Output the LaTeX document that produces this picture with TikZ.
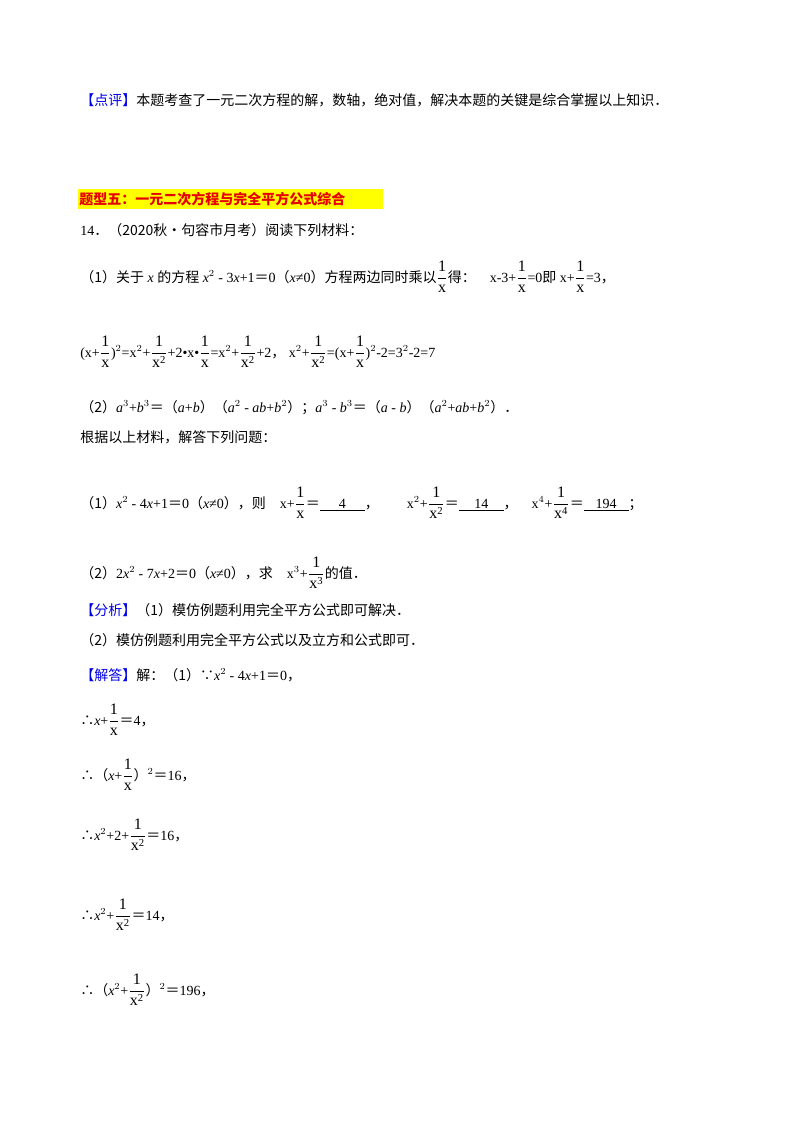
\documentclass[tikz,border=0pt]{standalone}
\usepackage{amsmath}
\usepackage{fontspec}
\setmainfont{Liberation Serif}
\newfontfamily\cjk{Noto Sans CJK SC}
\definecolor{kb}{RGB}{0,0,230}
\definecolor{hl}{RGB}{255,255,0}
\definecolor{tr}{RGB}{230,0,0}
\newcommand\C[1]{{\cjk #1}}
\newcommand\E{\C{＝}}
\newcommand\T{\C{∴}}
\newcommand\F[2]{{\fontsize{12}{14}\selectfont$\dfrac{\mathrm{#1}}{\mathrm{#2}}$}}
\newcommand\bl[1]{\underline{\makebox[3.2em]{#1}}}
\begin{document}
\begin{tikzpicture}[x=0.75pt,y=-0.75pt,
  t/.style={anchor=base west,inner sep=0,font=\fontsize{10.5}{12}\selectfont}]
\useasboundingbox (0,0) rectangle (800,1132);
\fill[white] (0,0) rectangle (800,1132);
\node[t] (l1) at (80,105) {\C{\textcolor{kb}{【点评】}本题考查了一元二次方程的解，数轴，绝对值，解决本题的关键是综合掌握以上知识．}};
\fill[hl] (78,189) rectangle (383,209);
\node[t] (h) at (79,204) {\C{\bfseries\textcolor{tr}{题型五：一元二次方程与完全平方公式综合}}};
\node[t] (l2) at (80,235) {14\C{．（2020秋•句容市月考）阅读下列材料：}};
\node[t] (l3) at (80,282) {\C{（1）关于} \textit{x} \C{的方程} \textit{x}$^2$ - 3\textit{x}+1\E 0\C{（}\textit{x}≠0\C{）方程两边同时乘以}\F{1}{x}\C{得：}\quad x-3+\F{1}{x}=0\C{即} x+\F{1}{x}=3\C{，}};
\node[t] (l4) at (80,357) {(x+\F{1}{x})$^2$=x$^2$+\F{1}{x^2}+2•x•\F{1}{x}=x$^2$+\F{1}{x^2}+2\C{，}\ x$^2$+\F{1}{x^2}=(x+\F{1}{x})$^2$-2=3$^2$-2=7};
\node[t] (l5) at (80,412) {\C{（2）}\textit{a}$^3$+\textit{b}$^3$\E\C{（}\textit{a}+\textit{b}\C{）（}\textit{a}$^2$ - \textit{ab}+\textit{b}$^2$\C{）；}\textit{a}$^3$ - \textit{b}$^3$\E\C{（}\textit{a} - \textit{b}\C{）（}\textit{a}$^2$+\textit{ab}+\textit{b}$^2$\C{）．}};
\node[t] (l6) at (80,442) {\C{根据以上材料，解答下列问题：}};
\node[t] (l7) at (80,508) {\C{（1）}\textit{x}$^2$ - 4\textit{x}+1\E 0\C{（}\textit{x}≠0\C{），则}\quad x+\F{1}{x}\E\bl{4}\C{，}\qquad x$^2$+\F{1}{x^2}\E\bl{14}\C{，}\quad x$^4$+\F{1}{x^4}\E\bl{194}\C{；}};
\node[t] (l8) at (80,578) {\C{（2）}2\textit{x}$^2$ - 7\textit{x}+2\E 0\C{（}\textit{x}≠0\C{），求}\quad x$^3$+\F{1}{x^3}\C{的值．}};
\node[t] (l9) at (80,615) {\C{\textcolor{kb}{【分析】}（1）模仿例题利用完全平方公式即可解决．}};
\node[t] (l10) at (80,645) {\C{（2）模仿例题利用完全平方公式以及立方和公式即可．}};
\node[t] (l11) at (80,680) {\C{\textcolor{kb}{【解答】}解：（1）∵}\textit{x}$^2$ - 4\textit{x}+1\E 0\C{，}};
\node[t] (l12) at (80,725) {\T\textit{x}+\F{1}{x}\E 4\C{，}};
\node[t] (l13) at (80,780) {\T\C{（}\textit{x}+\F{1}{x}\C{）}$^2$\E 16\C{，}};
\node[t] (l14) at (80,840) {\T\textit{x}$^2$+2+\F{1}{x^2}\E 16\C{，}};
\node[t] (l15) at (80,920) {\T\textit{x}$^2$+\F{1}{x^2}\E 14\C{，}};
\node[t] (l16) at (80,995) {\T\C{（}\textit{x}$^2$+\F{1}{x^2}\C{）}$^2$\E 196\C{，}};
\end{tikzpicture}
\end{document}
